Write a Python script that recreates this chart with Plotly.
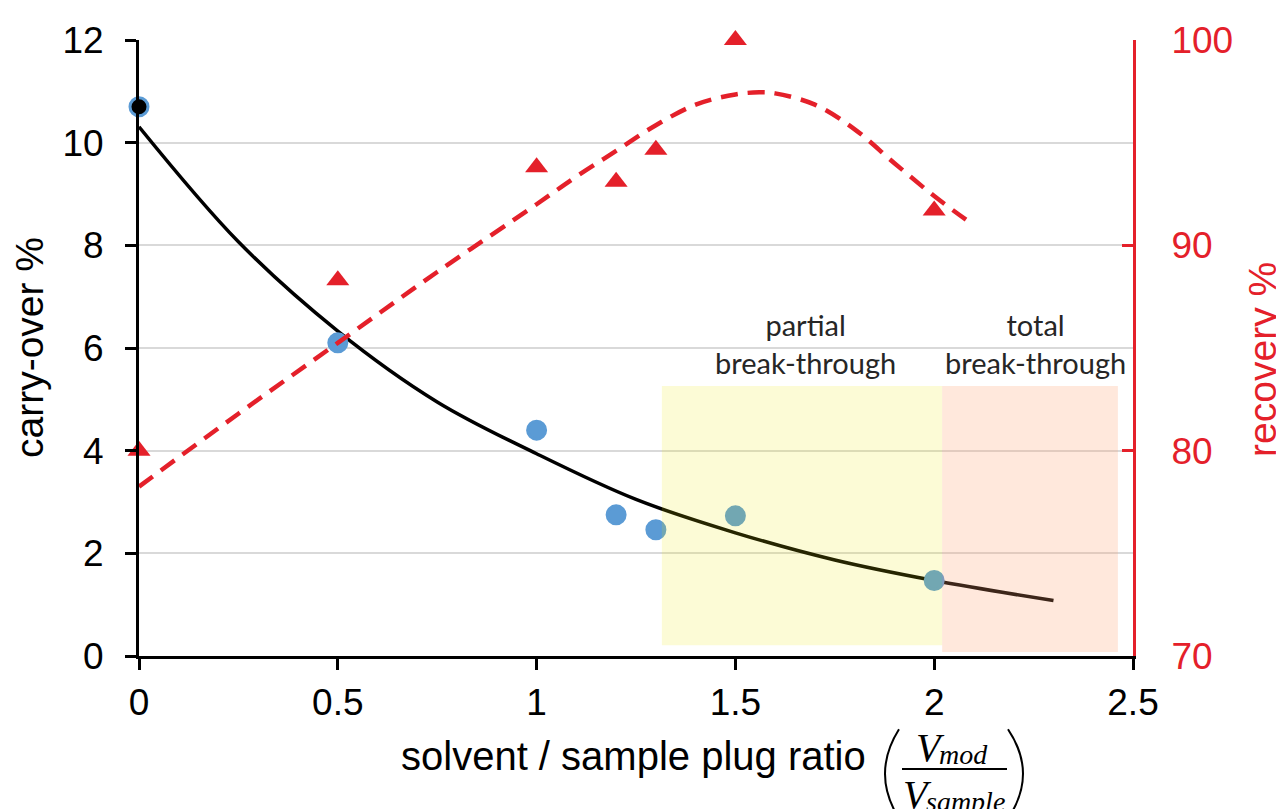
import plotly.graph_objects as go

# measured carry-over (left axis)
ratio = [0, 0.5, 1, 1.2, 1.3, 1.5, 2]
carry_over = [10.7, 6.1, 4.4, 2.75, 2.46, 2.73, 1.47]

# measured recovery (right axis)
recovery = [80.0, 88.3, 93.8, 93.1, 94.65, 100.0, 91.7]

# exponential trend line
fit_x = [0, 0.25, 0.5, 0.75, 1, 1.25, 1.5, 1.75, 2, 2.3]
fit_carry = [10.31, 8.07, 6.33, 4.95, 3.94, 3.05, 2.40, 1.87, 1.47, 1.08]

# polynomial trend line for recovery
fit_rec_x = [0, 0.25, 0.5, 0.75, 1.0, 1.1, 1.2, 1.3, 1.4, 1.5, 1.56, 1.6, 1.7, 1.8, 1.9, 2.0, 2.08]
fit_rec = [78.25, 81.8, 85.25, 88.7, 92.0, 93.35, 94.6, 95.85, 96.85, 97.35, 97.45, 97.4,
           96.85, 95.65, 94.0, 92.4, 91.25]

# break-through zones (x start, x end, y bottom, y top)
partial_zone = [1.315, 2.02, 0.21, 5.26]
total_zone = [2.02, 2.462, 0.08, 5.26]

RED = '#E4202A'
BLUE = '#5B9BD5'
FONT = 'Liberation Sans, Arial, sans-serif'
SERIF = 'Liberation Serif, Times New Roman, serif'

# the page body adds 8px, so the figure is 8px smaller and the plot box sits at 131..1125, 26..648
W, H = 1276, 801
L, T, PW, PH = 131, 26, 994, 622
px = lambda v: (v - 8 - L) / PW          # reference pixel -> paper x
py = lambda v: (T + PH - (v - 8)) / PH   # reference pixel -> paper y

fig = go.Figure()

fig.add_trace(go.Scatter(
    x=fit_x, y=fit_carry, mode='lines', line_shape='spline',
    line=dict(color='black', width=3.5), showlegend=False
))
fig.add_trace(go.Scatter(
    x=ratio, y=carry_over, mode='markers', cliponaxis=False,
    marker=dict(size=18, color=['black'] + [BLUE] * 6, line=dict(color=BLUE, width=3)),
    showlegend=False
))
fig.add_trace(go.Scatter(
    x=fit_rec_x, y=fit_rec, mode='lines', line_shape='spline', yaxis='y2',
    line=dict(color=RED, width=4.5, dash='17px,10px'), showlegend=False
))
fig.add_trace(go.Scatter(
    x=ratio, y=recovery, mode='markers', yaxis='y2', cliponaxis=False,
    marker=dict(symbol='triangle-up', size=20, color=RED), showlegend=False
))

# shaded zones, drawn translucent over the data like the original
fig.add_shape(type='rect', xref='x', yref='y', layer='above', line_width=0,
              x0=partial_zone[0], x1=partial_zone[1], y0=partial_zone[2], y1=partial_zone[3],
              fillcolor='rgb(235,229,0)', opacity=0.16)
fig.add_shape(type='rect', xref='x', yref='y', layer='above', line_width=0,
              x0=total_zone[0], x1=total_zone[1], y0=total_zone[2], y1=total_zone[3],
              fillcolor='rgb(255,160,110)', opacity=0.24)

zone_font = dict(family='Lato, Carlito, sans-serif', size=29, color='#262626')
fig.add_annotation(x=1.677, y=5.34, xref='x', yref='y', xanchor='center', yanchor='bottom',
                   showarrow=False, text='partial<br>break-through', font=zone_font)
fig.add_annotation(x=2.255, y=5.34, xref='x', yref='y', xanchor='center', yanchor='bottom',
                   showarrow=False, text='total<br>break-through', font=zone_font)

# axis titles
fig.add_annotation(x=px(29), y=py(345), xref='paper', yref='paper', textangle=-90,
                   xanchor='center', yanchor='middle', showarrow=False,
                   text='carry-over %', font=dict(family=FONT, size=39, color='black'))
fig.add_annotation(x=px(1263), y=py(357), xref='paper', yref='paper', textangle=-90,
                   xanchor='center', yanchor='middle', showarrow=False,
                   text='recovery %', font=dict(family=FONT, size=39, color=RED))

# x title with the V_mod / V_sample fraction
fig.add_annotation(x=px(868), y=py(757), xref='paper', yref='paper',
                   xanchor='right', yanchor='middle', showarrow=False,
                   text='solvent / sample plug ratio', font=dict(family=FONT, size=40, color='black'))
big = dict(family=SERIF, size=40, color='black')
small = dict(family=SERIF, size=28, color='black')
for left, mid, txt, f in [(914, 748, 'V', big), (937, 755, 'mod', small),
                          (901, 796, 'V', big), (924, 803, 'sample', small)]:
    fig.add_annotation(x=px(left), y=py(mid), xref='paper', yref='paper',
                       xanchor='left', yanchor='middle', showarrow=False,
                       text=f'<i>{txt}</i>', font=f)
fig.add_shape(type='line', xref='paper', yref='paper', line=dict(color='black', width=2),
              x0=px(902), x1=px(1007), y0=py(770), y1=py(770))
# parentheses round the fraction
fig.add_shape(type='path', xref='paper', yref='paper', line=dict(color='black', width=2),
              path=f'M {px(899)},{py(730)} Q {px(871)},{py(775)} {px(899)},{py(820)}')
fig.add_shape(type='path', xref='paper', yref='paper', line=dict(color='black', width=2),
              path=f'M {px(1008)},{py(730)} Q {px(1038)},{py(775)} {px(1008)},{py(820)}')

fig.update_layout(
    width=W, height=H,
    margin=dict(l=L, r=W - L - PW, t=T, b=H - T - PH),
    plot_bgcolor='white', paper_bgcolor='white',
    font=dict(family=FONT, size=37, color='black'),
    xaxis=dict(
        range=[0, 2.5], tickvals=[0, 0.5, 1, 1.5, 2, 2.5], ticktext=['0', '0.5', '1', '1.5', '2', '2.5'],
        showgrid=False, zeroline=False, showline=True, linecolor='black', linewidth=3,
        ticks='outside', ticklen=11, tickwidth=3, tickcolor='black',
        tickfont=dict(size=37), ticklabelstandoff=1
    ),
    yaxis=dict(
        range=[0, 12], tickvals=[0, 2, 4, 6, 8, 10, 12],
        showgrid=True, gridcolor='#D9D9D9', gridwidth=2, zeroline=False,
        showline=True, linecolor='black', linewidth=3,
        ticks='outside', ticklen=11, tickwidth=3, tickcolor='black',
        tickfont=dict(size=37), ticklabelstandoff=14
    ),
    yaxis2=dict(
        range=[70, 100], tickvals=[70, 80, 90, 100], overlaying='y', side='right', anchor='x',
        showgrid=False, zeroline=False, showline=True, linecolor=RED, linewidth=3,
        ticks='inside', ticklen=11, tickwidth=3, tickcolor=RED,
        tickfont=dict(size=37, color=RED), ticklabelstandoff=28
    ),
)

fig.write_html('out.html')
